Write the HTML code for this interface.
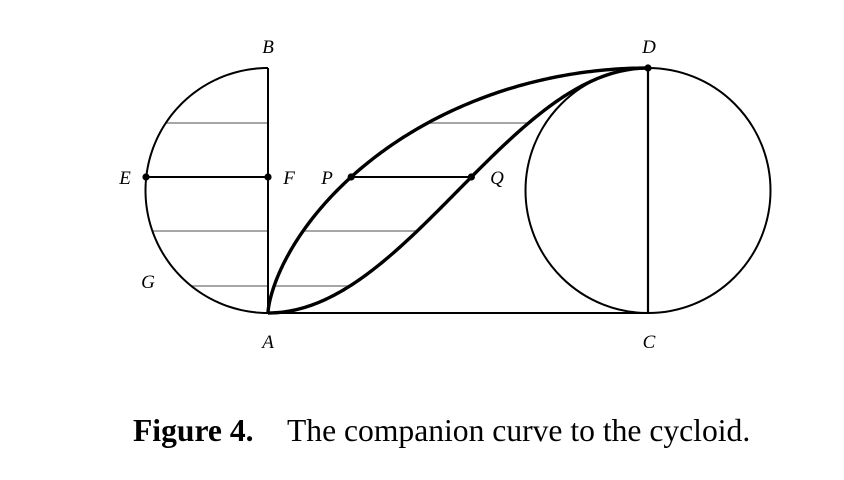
<!DOCTYPE html>
<html><head><meta charset="utf-8"><style>
html,body{margin:0;padding:0;background:#fff;width:844px;height:480px;overflow:hidden}
svg{display:block}
text{font-family:"Liberation Serif",serif}
.lb{font-style:italic;font-size:19px;text-anchor:middle}
</style></head><body>
<svg id="fig" width="844" height="480">
<g id="thin" stroke="#888" stroke-width="1.6" fill="none"></g>
<path id="semi" fill="none" stroke="#000" stroke-width="2"/>
<line x1="268" y1="68" x2="268" y2="313" stroke="#000" stroke-width="2"/>
<line x1="146" y1="177" x2="268" y2="177" stroke="#000" stroke-width="2"/>
<line x1="268" y1="313" x2="648" y2="313" stroke="#000" stroke-width="2"/>
<line x1="648" y1="68" x2="648" y2="313" stroke="#000" stroke-width="2.2"/>
<circle cx="648" cy="190.5" r="122.5" fill="none" stroke="#000" stroke-width="2"/>
<path id="cyc" fill="none" stroke="#000" stroke-width="3.4"/>
<path id="comp" fill="none" stroke="#000" stroke-width="3.4"/>
<line id="pq" y1="177" y2="177" stroke="#000" stroke-width="2"/>
<g id="dots"></g>
<text class="lb" x="268" y="53">B</text>
<text class="lb" x="649" y="53">D</text>
<text class="lb" x="125" y="184">E</text>
<text class="lb" x="289" y="184">F</text>
<text class="lb" x="327" y="184">P</text>
<text class="lb" x="497" y="184">Q</text>
<text class="lb" x="148" y="288">G</text>
<text class="lb" x="268" y="348">A</text>
<text class="lb" x="649" y="348">C</text>
<text x="133" y="441" font-size="31.6" font-weight="bold">Figure 4.</text>
<text x="287" y="441" font-size="31.6">The companion curve to the cycloid.</text>
</svg>
<script>
const hatchY=[123,231,286];
const pqY=177;
const ax=268, ay=313, rx=380/Math.PI, ry=122.5, cy=190.5;
function cycX(t){return ax+rx*(t-Math.sin(t));}
function compX(t){return ax+rx*t;}
function Y(t){return ay-ry*(1-Math.cos(t));}
function tAt(y){return Math.acos(1-(ay-y)/ry);}
let c1='',c2='';
for(let i=0;i<=200;i++){const t=Math.PI*i/200;c1+=(i?'L':'M')+cycX(t).toFixed(2)+' '+Y(t).toFixed(2);c2+=(i?'L':'M')+compX(t).toFixed(2)+' '+Y(t).toFixed(2);}
document.getElementById('cyc').setAttribute('d',c1);
document.getElementById('comp').setAttribute('d',c2);
let s='';
for(let i=0;i<=100;i++){const a=Math.PI/2+Math.PI*i/100;s+=(i?'L':'M')+(268+ry*Math.cos(a)).toFixed(2)+' '+(cy-ry*Math.sin(a)).toFixed(2);}
document.getElementById('semi').setAttribute('d',s);
const NS='http://www.w3.org/2000/svg',g=document.getElementById('thin');
hatchY.forEach(function(y,i){
 const dx=Math.sqrt(Math.max(0,ry*ry-(y-cy)*(y-cy)));
 const l=document.createElementNS(NS,'line');
 l.setAttribute('x1',268-dx);l.setAttribute('x2',268);l.setAttribute('y1',y);l.setAttribute('y2',y);
 
 
 g.appendChild(l);
 const t=tAt(y);
 const m=document.createElementNS(NS,'line');
 m.setAttribute('x1',cycX(t));m.setAttribute('x2',compX(t));m.setAttribute('y1',y);m.setAttribute('y2',y);
 
 
 g.appendChild(m);
});
const tp=tAt(pqY);
const pq=document.getElementById('pq');
pq.setAttribute('x1',cycX(tp));pq.setAttribute('x2',compX(tp));
const pts=[[146,177,'point-e'],[268,177,'point-f'],[cycX(tp),pqY,'point-p'],[compX(tp),pqY,'point-q'],[648,68,'point-d']];
const dg=document.getElementById('dots');
pts.forEach(function(p){
 const c=document.createElementNS(NS,'circle');
 c.setAttribute('cx',p[0]);c.setAttribute('cy',p[1]);c.setAttribute('r',3.6);
 
 
 dg.appendChild(c);
});
</script>
</body></html>
